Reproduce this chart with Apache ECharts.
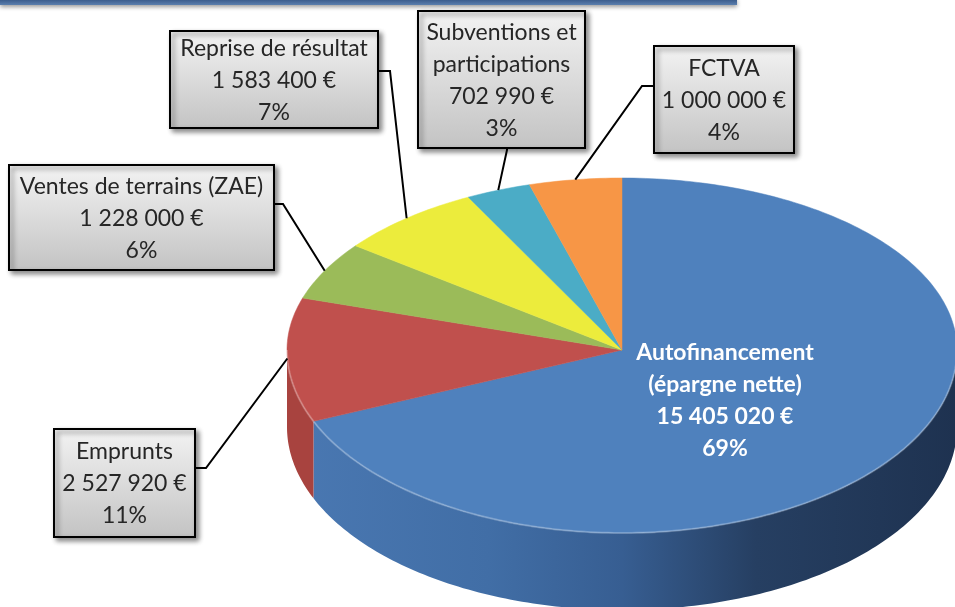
<!DOCTYPE html>
<html><head><meta charset="utf-8">
<script src="https://cdn.jsdelivr.net/npm/echarts@6/dist/echarts.min.js"></script>
<style>html,body{margin:0;padding:0;background:#fff}#c{width:955px;height:607px}</style>
</head><body><div id="c"></div>
<script>
// ---- data ----
const categories = ['Autofinancement\n(épargne nette)', 'Emprunts', 'Ventes de terrains (ZAE)', 'Reprise de résultat', 'Subventions et\nparticipations', 'FCTVA'];
const values = [15405020, 2527920, 1228000, 1583400, 702990, 1000000];
const percentLabels = [69, 11, 6, 7, 3, 4];

// ---- layout / style ----
const PIE = {cx: 622, cy: 350, rx: 335, ryBack: 172, ryFront: 183, depth: 77};
const topColors = ['#4f81bd', '#c0504d', '#9bbb59', '#ecec3c', '#4bacc6', '#f79646'];
const wallColors = [
  {type: 'linear', x: 287, y: 0, x2: 957, y2: 0, global: true, colorStops: [
    {offset: 0, color: '#4a78b2'}, {offset: 0.3, color: '#416ea6'}, {offset: 0.5, color: '#375e92'},
    {offset: 0.7, color: '#263f62'}, {offset: 1, color: '#1e3250'}]},
  '#a8433f', '#86a24a', '#cccc30', '#3e94ab', '#d9803a'
];
const boxes = [
  null,
  {x: 54, y: 429, w: 141, h: 108, pts: [[195, 468], [206, 468]]},
  {x: 9, y: 165, w: 265, h: 105, pts: [[274, 204], [283, 204]]},
  {x: 170, y: 31, w: 208, h: 97, pts: [[378, 71], [390, 71]]},
  {x: 418, y: 11, w: 167, h: 137, pts: [[507, 148], [507, 150]]},
  {x: 654, y: 46, w: 140, h: 107, pts: [[654, 86], [642, 86]]}
];
const FONT = 'Lato';

const total = values.reduce((a, b) => a + b, 0);
function fmtMoney(v) { return String(v).replace(/\B(?=(\d{3})+(?!\d))/g, ' ') + ' €'; }
function pt(deg, dy) {
  const t = deg * Math.PI / 180, s = Math.sin(t);
  const ry = s > 0 ? PIE.ryBack : PIE.ryFront;
  return [PIE.cx + PIE.rx * Math.cos(t), PIE.cy - ry * s + (dy || 0)];
}
function arc(from, to, dy) {
  const out = [], n = Math.max(2, Math.ceil(Math.abs(to - from)));
  for (let k = 0; k <= n; k++) out.push(pt(from + (to - from) * k / n, dy));
  return out;
}

function renderItem(params, api) {
  const i = params.dataIndex;
  let cum = 0;
  for (let k = 0; k < i; k++) cum += values[k];
  const v = api.value(0);
  const a0 = 90 - 360 * cum / total;
  const a1 = 90 - 360 * (cum + v) / total;
  const children = [];
  const hi = Math.min(a0, 0), lo = Math.max(a1, -180);
  if (hi > lo) {
    const topArc = arc(hi, lo, 0);
    const botArc = arc(lo, hi, PIE.depth);
    children.push({type: 'polygon', z2: 1, shape: {points: topArc.concat(botArc)}, style: {fill: wallColors[i], stroke: null}});
  }
  const pts = [[PIE.cx, PIE.cy]].concat(arc(a0, a1, 0));
  children.push({type: 'polygon', z2: 2, shape: {points: pts}, style: {fill: topColors[i], stroke: topColors[i], lineWidth: 0.5}});
  if (hi > lo) {
    children.push({type: 'polyline', z2: 3, shape: {points: arc(hi, lo, 0)}, style: {stroke: 'rgba(255,255,255,0.25)', lineWidth: 2, fill: null}});
  }
  const money = fmtMoney(v);
  const pct = percentLabels[i] + '%';
  const text = categories[i] + '\n' + money + '\n' + pct;
  if (!boxes[i]) {
    children.push({type: 'text', z2: 10, style: {text: text, x: 725, y: 401, align: 'center', verticalAlign: 'middle',
      font: 'bold 23px ' + FONT, fill: '#ffffff', lineHeight: 32}});
  } else {
    const b = boxes[i];
    const mid = (a0 + a1) / 2;
    children.push({type: 'polyline', z2: 8, shape: {points: b.pts.concat([pt(mid, 0)])}, style: {stroke: '#000', lineWidth: 2, fill: null}});
    children.push({type: 'rect', z2: 9, shape: {x: b.x, y: b.y, width: b.w, height: b.h}, style: {
      fill: {type: 'linear', x: 0, y: 0, x2: 0, y2: 1, colorStops: [{offset: 0, color: '#f3f3f3'}, {offset: 1, color: '#c3c3c3'}]},
      stroke: '#000', lineWidth: 2, shadowBlur: 5, shadowOffsetX: 3, shadowOffsetY: 3, shadowColor: 'rgba(0,0,0,0.45)'}});
    children.push({type: 'text', z2: 10, style: {text: text, x: b.x + b.w / 2, y: b.y + b.h / 2 + 1, align: 'center', verticalAlign: 'middle',
      font: '23px ' + FONT, fill: '#262626', lineHeight: 32}});
  }
  return {type: 'group', children: children};
}

const chart = echarts.init(document.getElementById('c'), null, {renderer: 'canvas'});
chart.setOption({
  animation: false,
  backgroundColor: '#ffffff',
  graphic: [{type: 'rect', shape: {x: 0, y: -2, width: 737, height: 7}, style: {
    fill: {type: 'linear', x: 0, y: 0, x2: 0, y2: 1, colorStops: [{offset: 0, color: '#2f4f7f'}, {offset: 1, color: '#5b7fae'}]},
    shadowBlur: 4, shadowOffsetY: 2, shadowColor: 'rgba(0,0,0,0.4)'}}],
  series: [{
    type: 'custom',
    coordinateSystem: 'none',
    renderItem: renderItem,
    data: values.map((v, i) => ({name: categories[i], value: [v]}))
  }]
});
</script></body></html>
